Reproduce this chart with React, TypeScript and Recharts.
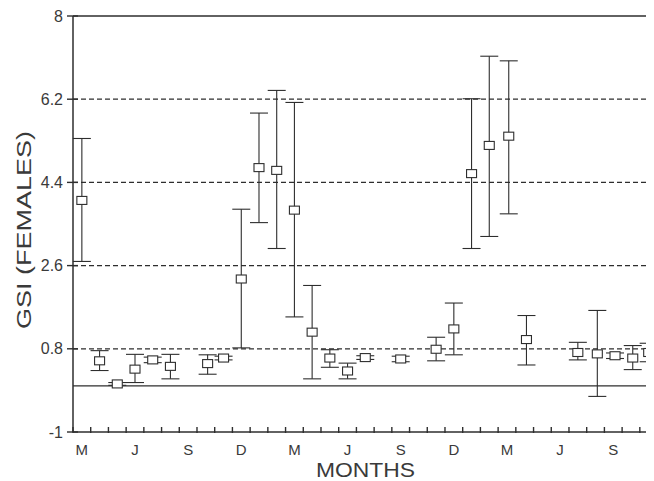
import { ScatterChart, Scatter, XAxis, YAxis, ErrorBar, ReferenceLine, Label } from 'recharts';

// sample position in months from the first March, mean GSI, lower and upper bar ends
const months = [0.5, 1.5, 2.5, 3.5, 4.5, 5.5, 7.6, 8.5, 9.5, 10.5, 11.5, 12.5, 13.5, 14.5, 15.5, 16.5, 18.5, 20.5, 21.5, 22.5, 23.5, 24.6, 25.6, 28.5, 29.6, 30.6, 31.6, 32.5];
const means = [4.01, 0.54, 0.04, 0.36, 0.56, 0.42, 0.48, 0.6, 2.31, 4.72, 4.66, 3.8, 1.16, 0.6, 0.32, 0.61, 0.58, 0.79, 1.23, 4.59, 5.2, 5.4, 1.0, 0.72, 0.69, 0.65, 0.6, 0.72];
const lows = [2.69, 0.33, 0.01, 0.07, 0.5, 0.15, 0.25, 0.56, 0.82, 3.53, 2.97, 1.49, 0.15, 0.4, 0.15, 0.57, 0.52, 0.54, 0.67, 2.97, 3.23, 3.72, 0.45, 0.56, -0.23, 0.59, 0.35, 0.52];
const highs = [5.35, 0.76, 0.07, 0.68, 0.62, 0.68, 0.67, 0.64, 3.82, 5.9, 6.39, 6.13, 2.17, 0.78, 0.49, 0.65, 0.64, 1.05, 1.79, 6.21, 7.13, 7.03, 1.52, 0.94, 1.63, 0.71, 0.87, 0.92];

const monthLabels = ['M', 'J', 'S', 'D', 'M', 'J', 'S', 'D', 'M', 'J', 'S'];
const yTicks = [-1, 0.8, 2.6, 4.4, 6.2, 8];
const dashedLevels = [0.8, 2.6, 4.4, 6.2];
const solidLevels = [0, 8];

const CHART_W = 646;
const CHART_H = 473;
const Y_AXIS_W = 65;
const X_MAX = 32.8;
const HALF_MONTH = (CHART_W - Y_AXIS_W) / X_MAX / 2;
const INK = '#2e2e2e';
const FONT = '"Liberation Sans", Arial, sans-serif';

const monthTicks = Array.from({ length: 33 }, (_, i) => i);

const data = months.map((m, i) => ({
  x: m,
  y: means[i],
  err: [means[i] - lows[i], highs[i] - means[i]],
}));

const MonthTick = (props: any) => {
  const { x, y, payload } = props;
  const m = payload.value as number;
  const label = m % 3 === 0 ? monthLabels[m / 3] : undefined;
  return (
    <g>
      <path d={`M${x},${y - 5}V${y + 1}`} stroke={INK} strokeWidth={1.4} fill="none" />
      {label && (
        <text x={x + HALF_MONTH} y={y + 23} textAnchor="middle" fontSize={15} fontFamily={FONT} fill="#3a3a3a">
          {label}
        </text>
      )}
    </g>
  );
};

const ValueTick = (props: any) => {
  const { x, y, payload } = props;
  return (
    <g>
      <path d={`M${x - 6},${y}H${x + 5}`} stroke={INK} strokeWidth={1.4} fill="none" />
      <text x={x - 10} y={y + 5.5} textAnchor="end" fontSize={16} fontFamily={FONT} fill="#3a3a3a">
        {payload.value}
      </text>
    </g>
  );
};

const OpenSquare = (props: any) => {
  const { cx, cy } = props;
  return <rect x={cx - 5} y={cy - 4} width={10} height={8} fill="#fff" stroke={INK} strokeWidth={1.1} />;
};

export default function App() {
  return (
    <div style={{ background: '#fff' }}>
      <ScatterChart width={CHART_W} height={CHART_H} margin={{ top: 8, right: 0, bottom: 0, left: 0 }}>
        {solidLevels.map((v) => (
          <ReferenceLine key={`s${v}`} y={v} stroke={INK} strokeWidth={1.3} />
        ))}
        {dashedLevels.map((v) => (
          <ReferenceLine key={`d${v}`} y={v} stroke={INK} strokeWidth={1.3} strokeDasharray="5 3" />
        ))}
        <XAxis
          type="number"
          dataKey="x"
          domain={[0, X_MAX]}
          ticks={monthTicks}
          interval={0}
          height={CHART_H - 8 - 416}
          tickSize={0}
          tickMargin={0}
          tickLine={false}
          tick={MonthTick}
          axisLine={{ stroke: INK, strokeWidth: 1.5 }}
          allowDataOverflow
        >
          <Label
            content={() => (
              <text x={357.5} y={469} textAnchor="middle" fontSize={20} fontFamily={FONT} fill="#3a3a3a" textLength={99} lengthAdjust="spacingAndGlyphs">
                MONTHS
              </text>
            )}
          />
        </XAxis>
        <YAxis
          type="number"
          dataKey="y"
          domain={[-1, 8]}
          ticks={yTicks}
          interval={0}
          width={Y_AXIS_W}
          tickSize={0}
          tickMargin={0}
          tickLine={false}
          tick={ValueTick}
          axisLine={{ stroke: INK, strokeWidth: 1.5 }}
          allowDataOverflow
        >
          <Label
            content={() => (
              <text x={16} y={222} transform="rotate(-90 16 222)" textAnchor="middle" dominantBaseline="central" fontSize={20} fontFamily={FONT} fill="#3a3a3a" textLength={198} lengthAdjust="spacingAndGlyphs">
                GSI (FEMALES)
              </text>
            )}
          />
        </YAxis>
        <Scatter data={data} shape={<OpenSquare />} isAnimationActive={false}>
          <ErrorBar dataKey="err" direction="y" width={9} stroke={INK} strokeWidth={1.1} />
        </Scatter>
      </ScatterChart>
    </div>
  );
}
